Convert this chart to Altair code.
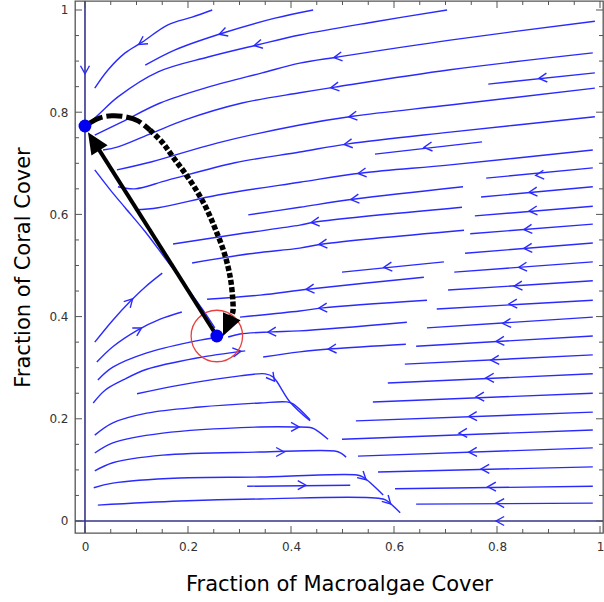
import altair as alt
import pandas as pd

FONT = "DejaVu Sans"
BLUE = "#2a2aff"
AXIS_BLUE = "#34348a"
FRAME = "#555555"

W, H = 528, 532
X_DOMAIN = [-0.0194, 1.0058]
Y_DOMAIN = [-0.0235, 1.0176]

x_title = "Fraction of Macroalgae Cover"
y_title = "Fraction of Coral Cover"
tick_values = [0, 0.2, 0.4, 0.6, 0.8, 1]
minor_values = [0.05, 0.1, 0.15, 0.25, 0.3, 0.35, 0.45, 0.5, 0.55,
                0.65, 0.7, 0.75, 0.85, 0.9, 0.95]

# trajectories drifting left toward the coral-dominated state
upper_streams = [
    [(0.247, 1.0), (0.208, 0.986), (0.161, 0.971), (0.111, 0.937), (0.078, 0.916), (0.045, 0.883), (0.019, 0.847)],
    [(0.443, 1.0), (0.369, 0.984), (0.268, 0.955), (0.175, 0.922), (0.117, 0.892)],
    [(0.703, 1.0), (0.563, 0.977), (0.417, 0.951), (0.336, 0.932), (0.239, 0.908), (0.142, 0.879), (0.064, 0.830), (0.029, 0.798), (0.004, 0.775)],
    [(0.990, 0.978), (0.709, 0.941), (0.491, 0.908), (0.417, 0.896), (0.344, 0.877), (0.239, 0.849), (0.146, 0.818), (0.072, 0.781), (0.019, 0.755)],
    [(0.986, 0.916), (0.709, 0.883), (0.485, 0.849), (0.417, 0.838), (0.305, 0.818), (0.194, 0.785), (0.130, 0.759), (0.064, 0.732), (0.035, 0.726)],
    [(0.990, 0.847), (0.709, 0.814), (0.520, 0.792), (0.417, 0.775), (0.258, 0.740), (0.130, 0.703), (0.062, 0.687)],
    [(0.990, 0.791), (0.709, 0.761), (0.511, 0.738), (0.417, 0.722), (0.291, 0.701), (0.161, 0.667), (0.097, 0.650), (0.064, 0.654)],
    [(0.986, 0.726), (0.709, 0.697), (0.538, 0.681), (0.417, 0.663), (0.258, 0.638), (0.142, 0.613), (0.097, 0.609)],
    [(0.734, 0.654), (0.524, 0.630), (0.417, 0.614), (0.317, 0.599)],
    [(0.732, 0.614), (0.447, 0.585), (0.417, 0.579), (0.301, 0.562), (0.171, 0.542)],
    [(0.736, 0.569), (0.462, 0.542), (0.417, 0.534), (0.320, 0.523), (0.208, 0.505)],
    [(0.658, 0.477), (0.437, 0.454), (0.340, 0.442), (0.237, 0.434)],
    [(0.664, 0.432), (0.462, 0.417), (0.417, 0.411), (0.301, 0.399)],
    [(0.625, 0.389), (0.417, 0.372), (0.363, 0.370), (0.301, 0.366), (0.278, 0.360)],
    [(0.623, 0.346), (0.480, 0.337), (0.417, 0.331), (0.346, 0.321)],
]

# short straight trajectories on the macroalgae side
right_streams = [
    [(0.783, 0.855), (0.990, 0.877)],
    [(0.563, 0.718), (0.771, 0.742)],
    [(0.779, 0.671), (0.986, 0.691)],
    [(0.769, 0.634), (0.986, 0.654)],
    [(0.757, 0.597), (0.986, 0.616)],
    [(0.748, 0.562), (0.986, 0.581)],
    [(0.499, 0.487), (0.697, 0.507)],
    [(0.738, 0.524), (0.986, 0.544)],
    [(0.717, 0.487), (0.986, 0.507)],
    [(0.705, 0.452), (0.986, 0.470)],
    [(0.683, 0.415), (0.986, 0.432)],
    [(0.664, 0.378), (0.986, 0.399)],
    [(0.643, 0.342), (0.986, 0.362)],
    [(0.621, 0.307), (0.986, 0.325)],
    [(0.588, 0.270), (0.986, 0.288)],
    [(0.559, 0.233), (0.986, 0.250)],
    [(0.526, 0.196), (0.986, 0.213)],
    [(0.499, 0.160), (0.986, 0.178)],
    [(0.530, 0.127), (0.986, 0.143)],
    [(0.569, 0.096), (0.986, 0.106)],
    [(0.602, 0.063), (0.986, 0.068)],
    [(0.643, 0.033), (0.986, 0.035)],
]

# separatrix and the trajectories below it, moving right
lower_streams = [
    [(0.019, 0.687), (0.049, 0.648), (0.078, 0.613), (0.117, 0.566), (0.155, 0.515), (0.194, 0.462), (0.229, 0.413), (0.252, 0.378)],
    [(0.019, 0.350), (0.054, 0.393), (0.087, 0.429), (0.117, 0.458), (0.150, 0.485)],
    [(0.023, 0.311), (0.054, 0.341), (0.103, 0.374), (0.146, 0.395), (0.188, 0.409)],
    [(0.025, 0.276), (0.054, 0.301), (0.120, 0.329), (0.204, 0.350), (0.249, 0.358)],
    [(0.016, 0.231), (0.039, 0.256), (0.074, 0.276), (0.120, 0.297), (0.217, 0.319), (0.311, 0.333)],
    [(0.101, 0.249), (0.184, 0.266), (0.301, 0.284), (0.350, 0.288), (0.365, 0.282), (0.398, 0.233), (0.437, 0.196)],
    [(0.019, 0.168), (0.054, 0.192), (0.120, 0.211), (0.223, 0.223), (0.340, 0.231), (0.392, 0.233), (0.404, 0.229), (0.437, 0.198)],
    [(0.019, 0.133), (0.054, 0.153), (0.151, 0.172), (0.340, 0.184), (0.408, 0.184), (0.441, 0.182), (0.452, 0.176), (0.472, 0.160)],
    [(0.019, 0.098), (0.054, 0.114), (0.151, 0.129), (0.340, 0.135), (0.485, 0.137), (0.497, 0.133), (0.507, 0.125)],
    [(0.017, 0.065), (0.054, 0.074), (0.184, 0.084), (0.340, 0.086), (0.528, 0.090), (0.540, 0.086), (0.579, 0.051)],
    [(0.315, 0.068), (0.515, 0.070)],
    [(0.025, 0.031), (0.184, 0.039), (0.340, 0.043), (0.579, 0.043), (0.592, 0.035), (0.612, 0.016)],
]

# invariant axes: no coral / no macroalgae
axis_streams = [
    [(0, Y_DOMAIN[0]), (0, Y_DOMAIN[1])],
    [(X_DOMAIN[0], 0), (X_DOMAIN[1], 0)],
]

# direction markers: x, y, heading (degrees, clockwise from +x on screen)
arrow_marks = [
    (0.111, 0.937, 147), (0.268, 0.955, 162), (0.336, 0.932, 167), (0.491, 0.908, 171),
    (0.485, 0.849, 171), (0.889, 0.867, 174), (0.520, 0.792, 172), (0.511, 0.738, 172),
    (0.666, 0.732, 174), (0.538, 0.681, 173), (0.883, 0.677, 175), (0.524, 0.630, 173),
    (0.870, 0.644, 175), (0.447, 0.585, 174), (0.870, 0.607, 175), (0.462, 0.542, 174),
    (0.860, 0.571, 175), (0.588, 0.497, 174), (0.860, 0.534, 176), (0.437, 0.454, 174),
    (0.850, 0.497, 176), (0.841, 0.460, 176), (0.462, 0.417, 176), (0.831, 0.425, 177),
    (0.363, 0.370, 177), (0.819, 0.387, 176), (0.480, 0.337, 176), (0.806, 0.352, 177),
    (0.796, 0.315, 177), (0.786, 0.280, 178), (0.767, 0.243, 178), (0.753, 0.205, 178),
    (0.734, 0.172, 178), (0.753, 0.135, 178), (0.777, 0.102, 179), (0.790, 0.067, 179),
    (0.806, 0.035, 180),
    (0.087, 0.429, 314), (0.103, 0.374, 330), (0.295, 0.331, 352), (0.363, 0.280, 52),
    (0.408, 0.184, 0), (0.379, 0.135, 0), (0.540, 0.086, 42), (0.421, 0.070, 0),
    (0.588, 0.039, 45),
    (0.0, 0.883, 90), (0.806, 0.0, 180),
]

# equilibria: coral-dominated node and interior saddle
eq_x = [0.0, 0.256]
eq_y = [0.773, 0.362]

# solid shift from the saddle to the coral state, and the dashed return
solid_path = [(0.256, 0.362), (0.017, 0.743)]
dashed_top = [(0.006, 0.777), (0.029, 0.789), (0.052, 0.793), (0.078, 0.791), (0.103, 0.783), (0.126, 0.765)]
dashed_rest = [(0.126, 0.765), (0.151, 0.740), (0.171, 0.712), (0.194, 0.681), (0.217, 0.646),
               (0.237, 0.609), (0.254, 0.569), (0.270, 0.526), (0.282, 0.477), (0.287, 0.432),
               (0.287, 0.409), (0.283, 0.400)]
heads = [(0.017, 0.743, 327.5), (0.2765, 0.3814, 204)]

CHEVRON = "M -0.9 -1 L 0.9 0 L -0.9 1"
HEAD = "M 0 -0.9 L 0.8 0.9 L -0.8 0.9 Z"


def lines_frame(groups):
    rows = []
    for g, pts_list in groups.items():
        for i, pts in enumerate(pts_list):
            for k, (x, y) in enumerate(pts):
                rows.append({"x": x, "y": y, "line": f"{g}{i}", "k": k})
    return pd.DataFrame(rows)


x_axis = alt.Axis(values=tick_values, format="~g", ticks=False, tickSize=0, domain=False,
                  grid=False, labelFont=FONT, labelFontSize=12, labelColor="#333333",
                  labelPadding=8, labelFlush=False, labelOverlap=False,
                  titleFont=FONT, titleFontSize=21, titleFontWeight="normal",
                  titleColor="black", titlePadding=21)
y_axis = alt.Axis(values=tick_values, format="~g", ticks=False, tickSize=0, domain=False,
                  grid=False, labelFont=FONT, labelFontSize=12, labelColor="#333333",
                  labelPadding=7, labelFlush=False, labelOverlap=False,
                  titleFont=FONT, titleFontSize=21, titleFontWeight="normal",
                  titleColor="black", titlePadding=15)
xs = alt.Scale(domain=X_DOMAIN, nice=False, zero=False)
ys = alt.Scale(domain=Y_DOMAIN, nice=False, zero=False)


def X(f):
    return alt.X(f, type="quantitative", scale=xs, axis=x_axis, title=x_title)


def Y(f):
    return alt.Y(f, type="quantitative", scale=ys, axis=y_axis, title=y_title)


streams_df = lines_frame({"u": upper_streams, "r": right_streams, "l": lower_streams})
streams = alt.Chart(streams_df).mark_line(
    color=BLUE, strokeWidth=1.4, interpolate="catmull-rom", clip=True
).encode(x=X("x"), y=Y("y"), detail="line:N", order="k:Q")

axes_df = lines_frame({"a": axis_streams})
axis_lines = alt.Chart(axes_df).mark_line(color=AXIS_BLUE, strokeWidth=1.6, clip=True).encode(
    x=X("x"), y=Y("y"), detail="line:N", order="k:Q")

arrows_df = pd.DataFrame(arrow_marks, columns=["x", "y", "a"])
arrows = alt.Chart(arrows_df).mark_point(
    shape=CHEVRON, filled=False, size=81, strokeWidth=1.4, color=BLUE, opacity=1
).encode(x=X("x"), y=Y("y"), angle=alt.Angle("a:Q", scale=None))

eq_df = pd.DataFrame({"x": eq_x, "y": eq_y})
saddle_ring = alt.Chart(eq_df.iloc[[1]]).mark_point(
    shape="circle", filled=False, size=2650, strokeWidth=1.3, color="#e8403f", opacity=1
).encode(x=X("x"), y=Y("y"))
eq_dots = alt.Chart(eq_df).mark_point(
    shape="circle", filled=True, size=165, color="#0000ee", opacity=1
).encode(x=X("x"), y=Y("y"))

solid_df = lines_frame({"s": [solid_path]})
solid = alt.Chart(solid_df).mark_line(color="black", strokeWidth=4, strokeCap="butt").encode(
    x=X("x"), y=Y("y"), order="k:Q")
dash_top_df = lines_frame({"d": [dashed_top]})
dash_top = alt.Chart(dash_top_df).mark_line(
    color="black", strokeWidth=5, strokeDash=[16, 4], interpolate="catmull-rom"
).encode(x=X("x"), y=Y("y"), order="k:Q")
dash_rest_df = lines_frame({"d": [dashed_rest]})
dash_rest = alt.Chart(dash_rest_df).mark_line(
    color="black", strokeWidth=5.5, strokeDash=[5, 2.2], interpolate="catmull-rom"
).encode(x=X("x"), y=Y("y"), order="k:Q")
heads_df = pd.DataFrame(heads, columns=["x", "y", "a"])
head_marks = alt.Chart(heads_df).mark_point(
    shape=HEAD, filled=True, size=576, color="black", opacity=1, strokeWidth=0
).encode(x=X("x"), y=Y("y"), angle=alt.Angle("a:Q", scale=None))

# inward tick marks on all four sides of the frame
major_df = pd.DataFrame({"v": tick_values})
minor_df = pd.DataFrame({"v": minor_values})


def tick_layers(df, length):
    base = alt.Chart(df).mark_rule(color=FRAME, strokeWidth=1)
    return [
        base.encode(x=X("v"), y=alt.value(H), y2=alt.value(H - length)),
        base.encode(x=X("v"), y=alt.value(0), y2=alt.value(length)),
        base.encode(y=Y("v"), x=alt.value(0), x2=alt.value(length)),
        base.encode(y=Y("v"), x=alt.value(W), x2=alt.value(W - length)),
    ]


chart = alt.layer(
    streams, axis_lines, arrows, saddle_ring, solid, dash_top, dash_rest, head_marks, eq_dots,
    *tick_layers(major_df, 7), *tick_layers(minor_df, 4),
).properties(
    width=W, height=H,
    autosize=alt.AutoSizeParams(type="none"),
    padding={"left": 75, "top": 1, "right": 1, "bottom": 69},
).configure_view(stroke=FRAME, strokeWidth=1.3)

chart.save("out.html", embed_options={"renderer": "svg", "actions": False})
